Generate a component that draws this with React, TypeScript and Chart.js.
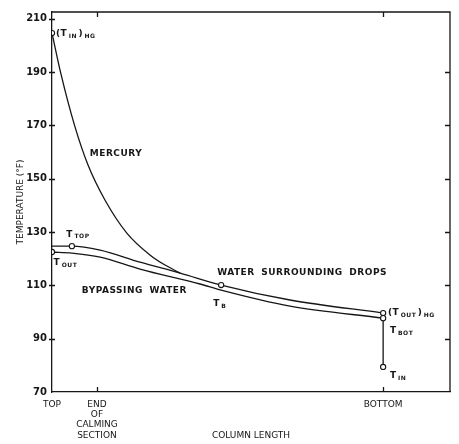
import React, { useEffect, useRef } from 'react';
import { Chart, registerables } from 'chart.js';

Chart.register(...registerables);

// ---- Data ----
const yTickValues = [70, 90, 110, 130, 150, 170, 190, 210];
const xTickValues = [0, 11.3, 83.2];
const xTickLabels: (string | string[])[] = ['TOP', ['END', 'OF', 'CALMING', 'SECTION'], 'BOTTOM'];

const mercuryX = [0, 2.26, 5.78, 9.05, 13.3, 18.8, 24.6, 28.4, 32.2];
const mercuryT = [204.6, 189.2, 169.4, 155.1, 142.0, 129.6, 121.4, 117.6, 114.6];

const surroundX = [0, 5.0, 12.1, 22.1, 32.2, 42.5, 59.8, 83.2];
const surroundT = [124.7, 124.7, 123.2, 118.7, 114.6, 110.1, 104.5, 99.6];

const bypassX = [0, 5.0, 12.1, 22.1, 37.2, 42.5, 59.8, 83.2];
const bypassT = [122.5, 122.1, 120.6, 116.1, 110.5, 108.2, 102.2, 97.7];

const inletX = [83.2, 83.2];
const inletT = [97.7, 79.4];

const markerX = [0, 5.0, 0, 42.5, 83.2, 83.2, 83.2];
const markerT = [204.6, 124.7, 122.5, 110.1, 99.6, 97.7, 79.4];

const zip = (xs: number[], ys: number[]) => xs.map((x, i) => ({ x, y: ys[i] }));

const INK = '#161616';
const FAMILY = "'DejaVu Sans', sans-serif";

type Part = [string, boolean];
const notes: { x: number; y: number; parts: Part[] }[] = [
  { x: 1.0, y: 204.6, parts: [['(T', false], ['IN', true], [')', false], ['HG', true]] },
  { x: 9.5, y: 159.6, parts: [['MERCURY', false]] },
  { x: 3.6, y: 129.4, parts: [['T', false], ['TOP', true]] },
  { x: 0.4, y: 118.7, parts: [['T', false], ['OUT', true]] },
  { x: 7.5, y: 108.2, parts: [['BYPASSING WATER', false]] },
  { x: 41.5, y: 115.0, parts: [['WATER SURROUNDING DROPS', false]] },
  { x: 40.5, y: 103.4, parts: [['T', false], ['B', true]] },
  { x: 84.4, y: 100.0, parts: [['(T', false], ['OUT', true], [')', false], ['HG', true]] },
  { x: 84.9, y: 93.2, parts: [['T', false], ['BOT', true]] },
  { x: 84.9, y: 76.4, parts: [['T', false], ['IN', true]] },
];

const framePlugin = {
  id: 'frameAndNotes',
  afterDraw(chart: any) {
    const { ctx, chartArea: a, scales } = chart;
    const xs = scales.x;
    const ys = scales.y;
    ctx.save();
    ctx.strokeStyle = INK;
    ctx.lineWidth = 1.3;
    ctx.beginPath();
    // top & right border
    ctx.moveTo(a.left, a.top);
    ctx.lineTo(a.right, a.top);
    ctx.lineTo(a.right, a.bottom);
    // left ticks (crossing) and right ticks (inward)
    yTickValues.forEach((v) => {
      const py = Math.round(ys.getPixelForValue(v)) + 0.5;
      if (v > 70) {
        ctx.moveTo(a.left - 3, py);
        ctx.lineTo(a.left + 3, py);
      }
      if (v > 70 && v < 210) {
        ctx.moveTo(a.right - 5, py);
        ctx.lineTo(a.right, py);
      }
    });
    // bottom and top ticks (inward)
    xTickValues.forEach((v) => {
      if (v <= 0) return;
      const px = Math.round(xs.getPixelForValue(v)) + 0.5;
      ctx.moveTo(px, a.bottom);
      ctx.lineTo(px, a.bottom - 5);
      ctx.moveTo(px, a.top);
      ctx.lineTo(px, a.top + 5);
    });
    ctx.stroke();

    // annotations
    ctx.fillStyle = INK;
    ctx.textBaseline = 'alphabetic';
    ctx.textAlign = 'left';
    (ctx as any).letterSpacing = '0.5px';
    (ctx as any).wordSpacing = '3px';
    notes.forEach((n) => {
      let cx = xs.getPixelForValue(n.x);
      const base = ys.getPixelForValue(n.y) + 3.3;
      n.parts.forEach(([t, sub]) => {
        ctx.font = sub ? `bold 6px ${FAMILY}` : `bold 9px ${FAMILY}`;
        ctx.fillText(t, cx, sub ? base + 1.5 : base);
        cx += ctx.measureText(t).width + 1.5;
      });
    });
    ctx.restore();
  },
};

export default function App() {
  const ref = useRef<HTMLCanvasElement>(null);
  useEffect(() => {
    document.body.style.margin = '0';
    const lineStyle = {
      showLine: true,
      borderColor: INK,
      borderWidth: 1.3,
      pointRadius: 0,
      pointHoverRadius: 0,
      cubicInterpolationMode: 'monotone' as const,
      fill: false,
    };
    const chart = new Chart(ref.current!, {
      type: 'scatter',
      data: {
        datasets: [
          {
            label: 'points',
            data: zip(markerX, markerT),
            showLine: false,
            pointRadius: 2.6,
            pointBackgroundColor: '#ffffff',
            pointBorderColor: INK,
            pointBorderWidth: 1.1,
          },
          { label: 'Mercury', data: zip(mercuryX, mercuryT), ...lineStyle },
          { label: 'Water surrounding drops', data: zip(surroundX, surroundT), ...lineStyle },
          { label: 'Bypassing water', data: zip(bypassX, bypassT), ...lineStyle },
          { label: 'Inlet', data: zip(inletX, inletT), ...lineStyle, cubicInterpolationMode: 'default' as const, tension: 0 },
        ],
      },
      options: {
        responsive: false,
        animation: false,
        layout: { padding: { top: 12, right: 9, left: 0, bottom: 0 } },
        plugins: { legend: { display: false }, tooltip: { enabled: false } },
        scales: {
          x: {
            type: 'linear',
            min: 0,
            max: 100,
            afterBuildTicks: (s: any) => {
              s.ticks = xTickValues.map((v) => ({ value: v }));
            },
            afterFit: (s: any) => {
              s.height = 52;
            },
            grid: { display: false, drawTicks: false },
            border: { display: true, color: INK, width: 1.3 },
            ticks: {
              autoSkip: false,
              maxRotation: 0,
              padding: 7,
              color: INK,
              font: { family: FAMILY, size: 9, lineHeight: 1.15 },
              callback: (v: any) => {
                const i = xTickValues.indexOf(Number(v));
                return i >= 0 ? xTickLabels[i] : '';
              },
            },
            title: {
              display: true,
              text: 'COLUMN LENGTH',
              color: INK,
              font: { family: FAMILY, size: 9 },
              padding: { top: 0, bottom: 2.6 },
            },
          },
          y: {
            type: 'linear',
            min: 70,
            max: 212.5,
            afterBuildTicks: (s: any) => {
              s.ticks = yTickValues.map((v) => ({ value: v }));
            },
            afterFit: (s: any) => {
              s.width = 52;
            },
            grid: { display: false, drawTicks: false },
            border: { display: true, color: INK, width: 1.3 },
            ticks: {
              padding: 5,
              color: INK,
              font: { family: FAMILY, size: 10, weight: 'bold' },
            },
            title: {
              display: true,
              text: 'TEMPERATURE (°F)',
              color: INK,
              font: { family: FAMILY, size: 9 },
              padding: { top: 15.5, bottom: 0 },
            },
          },
        },
      },
      plugins: [framePlugin],
    } as any);
    return () => chart.destroy();
  }, []);
  return (
    <div style={{ width: 459, height: 444, background: '#ffffff' }}>
      <canvas ref={ref} width={459} height={444} style={{ display: 'block' }} />
    </div>
  );
}
